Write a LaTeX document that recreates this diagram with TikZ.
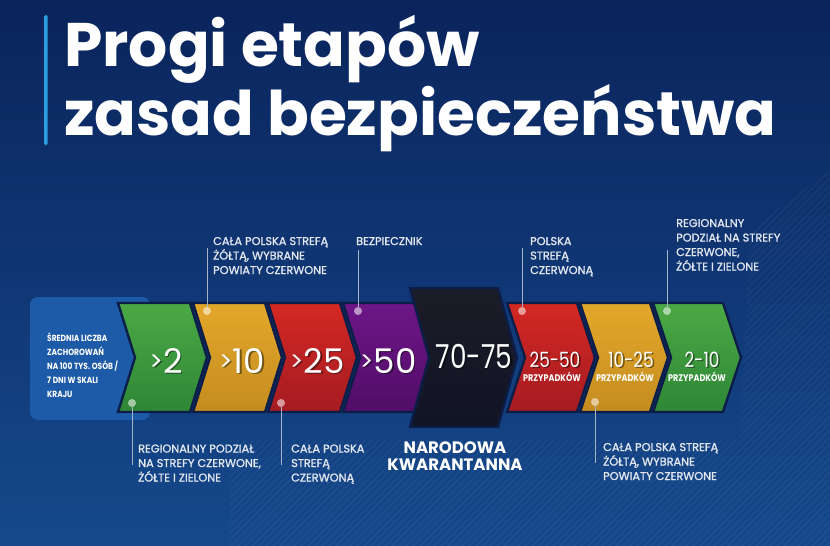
\documentclass[tikz,border=0pt]{standalone}
\usepackage{fontspec}
\setmainfont{Poppins}
\newfontfamily\popcond{Poppins}[FakeStretch=0.84]
\newfontfamily\numcond{Poppins}[FakeStretch=0.8]
\newfontfamily\lblfont{Poppins}[FakeBold=1.3]
\definecolor{bgtop}{HTML}{0A245C}
\definecolor{bgbot}{HTML}{15498C}
\definecolor{barblue}{HTML}{2A9EE0}
\definecolor{boxblue}{HTML}{1D5AA8}
\definecolor{navyline}{HTML}{0C1D48}
\definecolor{greentop}{HTML}{4BAA45}
\definecolor{greenbot}{HTML}{2E8636}
\definecolor{goldtop}{HTML}{E3A82A}
\definecolor{goldbot}{HTML}{C48C20}
\definecolor{redtop}{HTML}{D42822}
\definecolor{redbot}{HTML}{A41B22}
\definecolor{purpletop}{HTML}{6E1688}
\definecolor{purplebot}{HTML}{500D66}
\definecolor{blacktop}{HTML}{1C1C27}
\definecolor{blackbot}{HTML}{111426}
\definecolor{labeltext}{HTML}{E2E7F0}
\definecolor{leader}{HTML}{A9B3C7}
\newcommand\chevron[6]{%
  \path[chev, top color=#6top, bottom color=#6bot]
    (#1,#2) -- ({#1+#4},#2) -- ({#1+#4+#5},{(#2+#3)/2}) -- ({#1+#4},#3)
    -- (#1,#3) -- ({#1+#5},{(#2+#3)/2}) -- cycle;}
\newcommand\bignum[5]{%
  \node[numshadow, font=#4] at ({#2+1.6},{#3+1.6}) {#5};
  \node[numtext, font=#4] (#1) at (#2,#3) {#5};}
\newcommand\gt{{\fontsize{26}{26}\selectfont\raisebox{3pt}{>}}}
\begin{document}
\begin{tikzpicture}[x=1pt,y=-1pt,
  chev/.style={draw=navyline, line width=2.4pt, line join=miter},
  numtext/.style={anchor=base, inner sep=0, text=white},
  numshadow/.style={anchor=base, inner sep=0, text=black, opacity=0.45},
  lbl/.style={anchor=base west, inner sep=0, text=labeltext,
    font=\fontsize{11.3}{14.5}\selectfont\lblfont},
  dot/.style={circle, fill=white, fill opacity=0.55, minimum size=8pt, inner sep=0},
  lead/.style={draw=leader, line width=0.9pt},
  stripe/.style={draw=white, opacity=0.035, line width=1.6pt},
  przyp/.style={anchor=base, inner sep=0, text=white, font=\fontsize{9.6}{9.6}\selectfont\bfseries\popcond}]
\useasboundingbox (0,0) rectangle (830,546);
\shade[top color=bgtop, bottom color=bgbot] (0,0) rectangle (830,546);
% faint diagonal stripes
\begin{scope}
  \clip (230,440) -- (740,440) -- (750,230) -- (830,170) -- (830,546) -- (230,546) -- cycle;
  \foreach \i in {-560,-553,...,830} { \draw[stripe] (\i,546) -- ({\i+546},0); }
\end{scope}
% title
\fill[barblue, rounded corners=1.5pt] (44,15) rectangle (47.5,145);
\node[anchor=base west, inner sep=0, text=white, font=\fontsize{61.5}{61.5}\selectfont\bfseries] (t1) at (64,66) {Progi etapów};
\node[anchor=base west, inner sep=0, text=white, font=\fontsize{61.5}{61.5}\selectfont\bfseries] (t2) at (64,135) {zasad bezpieczeństwa};
% blue box
\fill[boxblue, rounded corners=8pt] (30,297) rectangle (150,420);
\node[anchor=base west, inner sep=0, text=white, font=\fontsize{8.9}{14.2}\selectfont\bfseries\popcond] (info) at (47,341)
  {\vtop{\hbox{ŚREDNIA LICZBA}\hbox{ZACHOROWAŃ}\hbox{NA 100 TYS. OSÓB /}\hbox{7 DNI W SKALI}\hbox{KRAJU}}};
% chevrons
\chevron{118}{303}{412}{72}{17}{green}
\chevron{193}{303}{412}{72}{17}{gold}
\chevron{268}{303}{412}{72}{17}{red}
\chevron{343}{303}{412}{72}{17}{purple}
\chevron{410}{288}{427}{88}{19}{black}
\chevron{507}{303}{412}{70}{18}{red}
\chevron{580}{303}{412}{70}{18}{gold}
\chevron{653}{303}{412}{70}{18}{green}
% numbers
\bignum{n1}{166}{373}{\fontsize{34}{34}\selectfont}{\gt2}
\bignum{n2}{242}{373}{\fontsize{34}{34}\selectfont}{\gt10}
\bignum{n3}{317}{373}{\fontsize{34}{34}\selectfont}{\gt25}
\bignum{n4}{388}{373}{\fontsize{34}{34}\selectfont}{\gt50}
\bignum{n5}{474}{368}{\fontsize{33}{33}\selectfont\numcond}{70-75}
\bignum{n6}{555}{367}{\fontsize{21}{21}\selectfont\numcond}{25-50}
\bignum{n7}{631}{367}{\fontsize{21}{21}\selectfont\numcond}{10-25}
\bignum{n8}{702}{367}{\fontsize{21}{21}\selectfont\numcond}{2-10}
\node[przyp] (p6) at (552,381) {PRZYPADKÓW};
\node[przyp] (p7) at (625,381) {PRZYPADKÓW};
\node[przyp] (p8) at (697,381) {PRZYPADKÓW};
% dots and leaders
\node[dot] (d1) at (207,311) {};
\node[dot] (d2) at (358,311) {};
\node[dot] (d3) at (522,311) {};
\node[dot] (d4) at (667,311) {};
\node[dot] (d5) at (132,403) {};
\node[dot] (d6) at (281,403) {};
\node[dot] (d7) at (595,402) {};
\coordinate (c1) at (207,248);
\coordinate (c2) at (358,250);
\coordinate (c3) at (522,248);
\coordinate (c4) at (667,250);
\coordinate (c5) at (132,465);
\coordinate (c6) at (281,465);
\coordinate (c7) at (595,463);
\draw[lead] (c1) -- (d1);
\draw[lead] (c2) -- (d2);
\draw[lead] (c3) -- (d3);
\draw[lead] (c4) -- (d4);
\draw[lead] (d5) -- (c5);
\draw[lead] (d6) -- (c6);
\draw[lead] (d7) -- (c7);
% labels
\node[lbl] (l1) at (213,245) {\vtop{\hbox{CAŁA POLSKA STREFĄ}\hbox{ŻÓŁTĄ, WYBRANE}\hbox{POWIATY CZERWONE}}};
\node[lbl] (l2) at (356,245) {BEZPIECZNIK};
\node[lbl] (l3) at (530,245) {\vtop{\hbox{POLSKA}\hbox{STREFĄ}\hbox{CZERWONĄ}}};
\node[lbl] (l4) at (676,227) {\vtop{\hbox{REGIONALNY}\hbox{PODZIAŁ NA STREFY}\hbox{CZERWONE,}\hbox{ŻÓŁTE I ZIELONE}}};
\node[lbl] (l5) at (138,452.5) {\vtop{\hbox{REGIONALNY PODZIAŁ}\hbox{NA STREFY CZERWONE,}\hbox{ŻÓŁTE I ZIELONE}}};
\node[lbl] (l6) at (291,452.5) {\vtop{\hbox{CAŁA POLSKA}\hbox{STREFĄ}\hbox{CZERWONĄ}}};
\node[lbl] (l7) at (603,451) {\vtop{\hbox{CAŁA POLSKA STREFĄ}\hbox{ŻÓŁTĄ, WYBRANE}\hbox{POWIATY CZERWONE}}};
\node[anchor=base, inner sep=0, text=white, font=\fontsize{16.5}{17}\selectfont\bfseries] (nk) at (455,453)
  {\vtop{\hbox to 0pt{\hss NARODOWA\hss}\hbox to 0pt{\hss KWARANTANNA\hss}}};
\end{tikzpicture}
\end{document}
